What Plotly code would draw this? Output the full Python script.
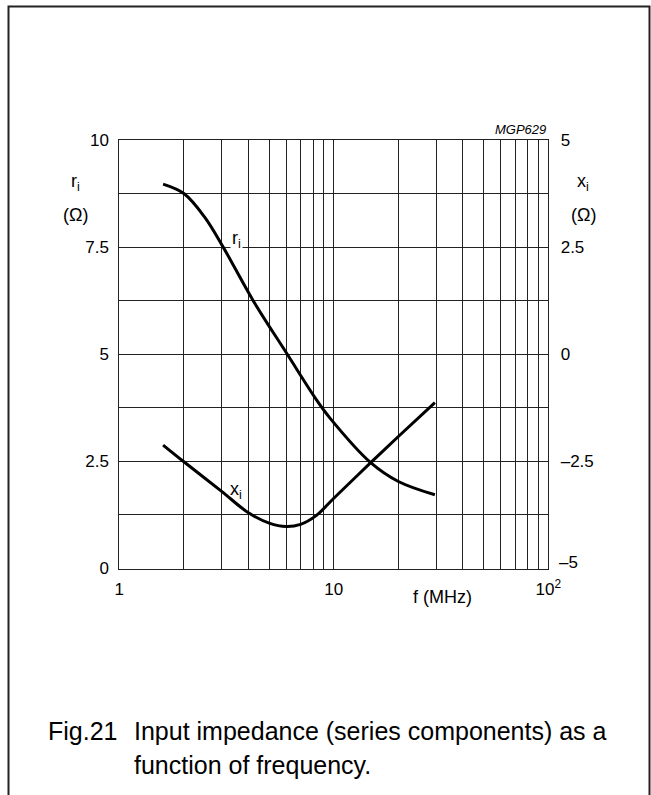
import plotly.graph_objects as go

W, H = 651, 795

# r_i (left axis, ohm) vs frequency (MHz)
ri_freq = [1.6, 2.0, 2.5, 3.05, 4.21, 6.07, 8.32, 9.6, 14.86, 20.0, 29.6]
ri_vals = [8.97, 8.75, 8.2, 7.5, 6.25, 5.0, 3.93, 3.51, 2.47, 2.03, 1.72]

# x_i (right axis, ohm) vs frequency (MHz)
xi_freq = [1.6, 2.0, 3.0, 4.0, 5.0, 6.0, 7.0, 8.3, 10.0, 14.86, 20.0, 29.6]
xi_vals = [-2.12, -2.51, -3.2, -3.7, -3.94, -4.02, -3.97, -3.76, -3.36, -2.53, -1.92, -1.13]

x_tickvals = [1, 2, 3, 4, 5, 6, 7, 8, 9, 10, 20, 30, 40, 50, 60, 70, 80, 90, 100]
x_ticktext = ["1", "", "", "", "", "", "", "", "", "10", "", "", "", "", "", "", "", "", "10<sup>2</sup>"]
y_tickvals = [0, 1.25, 2.5, 3.75, 5, 6.25, 7.5, 8.75, 10]
y_ticktext = ["0", "", "2.5", "", "5", "", "7.5", "", "10"]
y2_tickvals = [-2.5, 0, 2.5, 5]
y2_ticktext = ["–2.5", "0", "2.5", "5"]

FONT = "Liberation Sans, Arial, Helvetica, sans-serif"
TICK = 17

def px(x):
    return x / W

def py(y):
    return 1 - y / H

fig = go.Figure()
fig.add_trace(go.Scatter(x=ri_freq, y=ri_vals, mode="lines",
                         line=dict(color="black", width=3, shape="spline"),
                         yaxis="y", showlegend=False, hoverinfo="skip"))
fig.add_trace(go.Scatter(x=xi_freq, y=xi_vals, mode="lines",
                         line=dict(color="black", width=3, shape="spline"),
                         yaxis="y2", showlegend=False, hoverinfo="skip"))

grid = "#222"
fig.update_layout(
    template="none",
    width=W, height=H,
    margin=dict(l=0, r=0, t=0, b=0, pad=0),
    paper_bgcolor="white", plot_bgcolor="white",
    font=dict(family=FONT, size=TICK, color="black"),
    xaxis=dict(type="log", range=[0, 2], domain=[px(119.3), px(548.3)],
               tickvals=x_tickvals, ticktext=x_ticktext, automargin=False,
               showgrid=True, gridcolor=grid, gridwidth=1,
               showline=True, linecolor=grid, linewidth=1, mirror=True,
               ticks="outside", ticklen=5, tickcolor="rgba(0,0,0,0)",
               zeroline=False, tickfont=dict(size=TICK)),
    yaxis=dict(range=[0, 10], domain=[py(568.5), py(140)],
               tickvals=y_tickvals, ticktext=y_ticktext, automargin=False,
               showgrid=True, gridcolor=grid, gridwidth=1,
               showline=True, linecolor=grid, linewidth=1, mirror=True,
               ticks="outside", ticklen=6, tickcolor="rgba(0,0,0,0)",
               zeroline=False, tickfont=dict(size=TICK)),
    yaxis2=dict(range=[-5, 5], overlaying="y", side="right", automargin=False,
                tickvals=y2_tickvals, ticktext=y2_ticktext,
                showgrid=False, zeroline=False, showline=False,
                ticks="outside", ticklen=8, tickcolor="rgba(0,0,0,0)",
                tickfont=dict(size=TICK)),
)

ann = []
def add(text, x, y, xanchor="center", yanchor="middle", size=18, bg=None, italic=False):
    d = dict(text=text, x=px(x), y=py(y), xref="paper", yref="paper",
             xanchor=xanchor, yanchor=yanchor, showarrow=False,
             font=dict(family=FONT, size=size, color="black",
                       style="italic" if italic else "normal"))
    if bg:
        d["bgcolor"] = bg
    ann.append(d)

add("r<sub>i</sub>", 75, 183)
add("(Ω)", 75, 215)
add("x<sub>i</sub>", 583, 183)
add("(Ω)", 583, 215)
add("–5", 557, 562, xanchor="left", size=TICK)
add("f (MHz)", 442, 597)
add("MGP629", 548, 130, xanchor="right", size=13, italic=True)
add("r<sub>i</sub>", 237, 240, bg="white")
add("x<sub>i</sub>", 236, 490)
add("Fig.21", 46, 731, xanchor="left", size=25)
add("Input impedance (series components) as a", 132, 731, xanchor="left", size=25)
add("function of frequency.", 132, 765, xanchor="left", size=25)
fig.update_layout(annotations=ann)

fig.add_shape(type="rect", xref="paper", yref="paper",
              x0=px(8.5), x1=px(649.5), y0=-0.02, y1=py(6.5),
              line=dict(color="#222", width=2), fillcolor="rgba(0,0,0,0)", layer="below")

fig.write_html("out.html",
               config={"displayModeBar": False},
               post_script="document.body.style.margin='0';"
                           "document.body.style.overflow='hidden';"
                           "document.documentElement.style.overflow='hidden';")
